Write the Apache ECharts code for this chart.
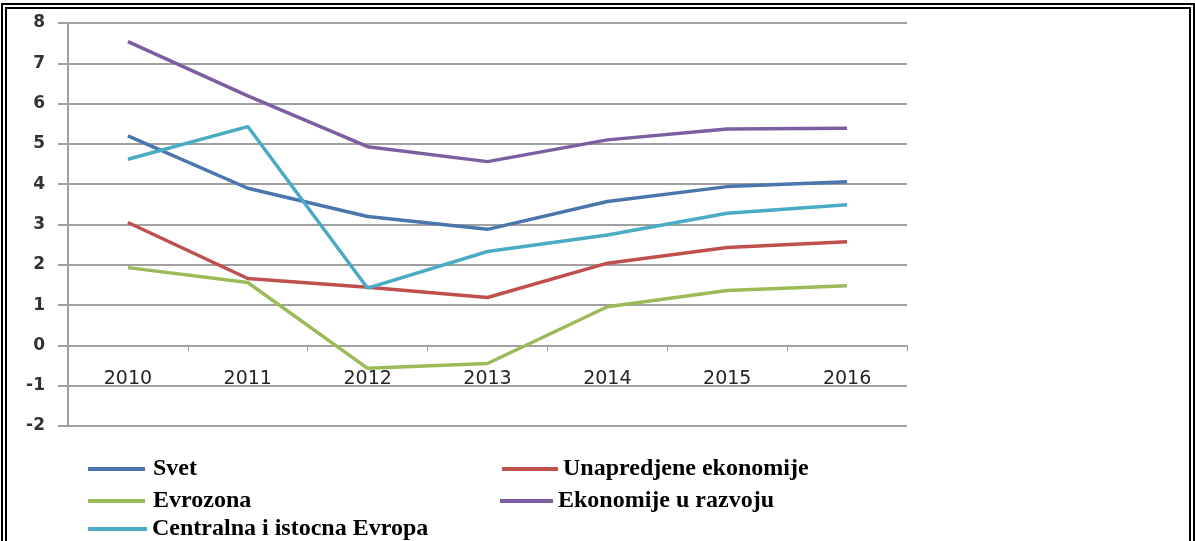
<!DOCTYPE html>
<html>
<head>
<meta charset="utf-8">
<script src="https://cdn.jsdelivr.net/npm/echarts@6/dist/echarts.min.js"></script>
<style>
  html, body { margin: 0; padding: 0; background: #fff; }
  #wrap { position: relative; width: 1195px; height: 541px; overflow: hidden; }
  #main { position: absolute; left: 0; top: 0; width: 1195px; height: 541px; }
  #frame {
    position: absolute; left: 1px; top: 3px; width: 1194px; height: 560px;
    box-sizing: border-box; border: 6px double #000; pointer-events: none;
  }
</style>
</head>
<body>
<div id="wrap">
  <div id="main"></div>
  <div id="frame"></div>
</div>
<script>
// kategorije (godine)
var years = ['2010', '2011', '2012', '2013', '2014', '2015', '2016'];

// stope rasta po grupama
var svet = [5.2, 3.9, 3.2, 2.88, 3.57, 3.94, 4.06];
var unapredjene = [3.05, 1.66, 1.44, 1.19, 2.04, 2.43, 2.57];
var evrozona = [1.93, 1.56, -0.57, -0.45, 0.96, 1.36, 1.48];
var razvoj = [7.54, 6.19, 4.93, 4.56, 5.1, 5.37, 5.39];
var ceEvropa = [4.62, 5.43, 1.42, 2.33, 2.74, 3.28, 3.49];

var yMin = -2, yMax = 8, yStep = 1;

var chartDom = document.getElementById('main');
var myChart = echarts.init(chartDom);

var legendText = {
    fontFamily: '"Liberation Serif", serif',
    fontWeight: 'bold',
    fontSize: 24,
    color: '#000'
};

// jedna legenda po stavci, da bi raspored bio kao na slici
function leg(name, left, top, w, pad) {
    return {
        left: left, top: top,
        icon: 'rect', itemWidth: w, itemHeight: 4,
        textStyle: Object.assign({}, legendText, { padding: [0, 0, 0, pad] }),
        data: [name]
    };
}

function line(name, data, color) {
    return {
        name: name,
        type: 'line',
        data: data,
        symbol: 'none',
        smooth: false,
        lineStyle: { color: color, width: 3.5 },
        itemStyle: { color: color }
    };
}

var option = {
    animation: false,
    backgroundColor: '#fff',
    grid: { left: 68, right: 288, top: 23, bottom: 115 },
    xAxis: {
        type: 'category',
        data: years,
        axisLine: { onZero: true, lineStyle: { color: '#a0a0a0', width: 2 } },
        axisTick: { show: true, length: 6, lineStyle: { color: '#a0a0a0', width: 1 } },
        axisLabel: {
            margin: -56,
            color: '#262626',
            fontFamily: '"DejaVu Sans", sans-serif',
            fontSize: 19
        },
        splitLine: { show: false }
    },
    yAxis: {
        type: 'value',
        min: yMin,
        max: yMax,
        interval: yStep,
        axisLine: { show: true, lineStyle: { color: '#a0a0a0', width: 2 } },
        axisTick: { show: true, length: 10, lineStyle: { color: '#a0a0a0', width: 2 } },
        axisLabel: {
            margin: 23,
            color: '#333',
            fontFamily: '"DejaVu Sans", sans-serif',
            fontWeight: 'bold',
            fontSize: 17
        },
        splitLine: { show: true, lineStyle: { color: '#a0a0a0', width: 2 } }
    },
    legend: [
        leg('Svet', 83, 452, 57, 3),
        leg('Evrozona', 83, 484, 57, 3),
        leg('Centralna i istocna Evropa', 83, 512, 59, 0),
        leg('Unapredjene ekonomije', 497, 452, 56, 0),
        leg('Ekonomije u razvoju', 495, 484, 53, 0)
    ],
    series: [
        line('Svet', svet, '#4a76ad'),
        line('Unapredjene ekonomije', unapredjene, '#c0504d'),
        line('Evrozona', evrozona, '#9bbb59'),
        line('Ekonomije u razvoju', razvoj, '#7c5fa0'),
        line('Centralna i istocna Evropa', ceEvropa, '#4aabc5')
    ]
};

option && myChart.setOption(option);
</script>
</body>
</html>
